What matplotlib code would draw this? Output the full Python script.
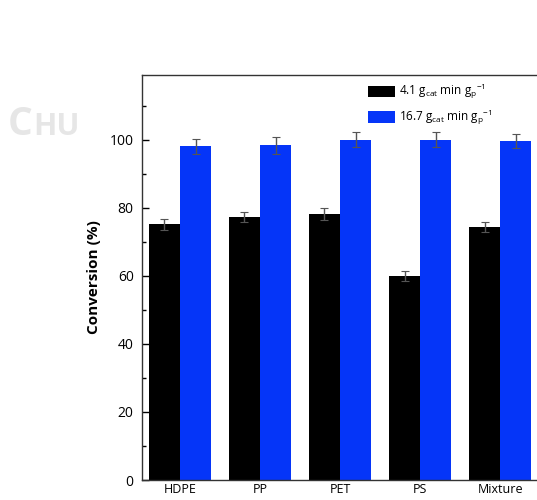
import numpy as np
import matplotlib.pyplot as plt

plt.rcParams["font.family"] = ["Open Sans", "DejaVu Sans"]
plt.rcParams["mathtext.fontset"] = "custom"
plt.rcParams["mathtext.rm"] = "Open Sans"
plt.rcParams["mathtext.it"] = "Open Sans"

# Conversion of each plastic at two catalyst loadings
plastics = ["HDPE", "PP", "PET", "PS", "Mixture"]
low_conv = [75.2, 77.2, 78.1, 60.0, 74.4]
low_err = [1.6, 1.5, 1.7, 1.4, 1.5]
high_conv = [98.0, 98.3, 100.0, 100.0, 99.7]
high_err = [2.1, 2.5, 2.2, 2.3, 2.1]
labels = [r"4.1 g$_{\mathrm{cat}}$ min g$_{\mathrm{p}}$$^{\mathrm{-1}}$",
          r"16.7 g$_{\mathrm{cat}}$ min g$_{\mathrm{p}}$$^{\mathrm{-1}}$"]

fig = plt.figure(figsize=(5.37, 5.0), dpi=100)
ax = fig.add_axes([0.2644, 0.04, 0.7356, 0.81])

x = np.arange(len(plastics))
w = 0.39
err_kw = dict(ecolor="#555555", elinewidth=1.0, capsize=3, capthick=0.8)
ax.bar(x - w / 2, low_conv, w, yerr=low_err, color="black", label=labels[0],
       error_kw=err_kw)
ax.bar(x + w / 2, high_conv, w, yerr=high_err, color="#0535f8", label=labels[1],
       error_kw=err_kw)

ax.set_xlim(-0.475, 4.46)
ax.set_ylim(0, 119)
ax.set_xticks(x)
ax.set_xticklabels(plastics, fontsize=9)
ax.set_yticks(np.arange(0, 101, 20))
ax.set_yticks(np.arange(10, 111, 20), minor=True)
ax.tick_params(axis="x", length=0, pad=2)
ax.tick_params(axis="y", which="major", direction="in", length=5, labelsize=10,
               width=1.0, pad=6)
ax.tick_params(axis="y", which="minor", direction="in", length=3, width=1.0)
ax.spines["right"].set_visible(False)
for s in ["left", "top", "bottom"]:
    ax.spines[s].set_linewidth(1.0)
    ax.spines[s].set_color("#333333")

ax.set_ylabel("Conversion (%)", fontsize=11, fontweight="bold", labelpad=6)

ax.legend(loc="upper left", bbox_to_anchor=(0.555, 1.0), frameon=False,
          fontsize=8.5, handlelength=2.3, handleheight=1.1, handletextpad=0.3,
          labelspacing=0.55, borderaxespad=0.2)

# faint watermark letters
fig.text(0.015, 0.73, "C", fontsize=28, fontweight="bold", color="#e6e6e6")
fig.text(0.062, 0.73, "HU", fontsize=22, fontweight="bold", color="#e6e6e6")

fig.savefig("out.png", dpi=100)
